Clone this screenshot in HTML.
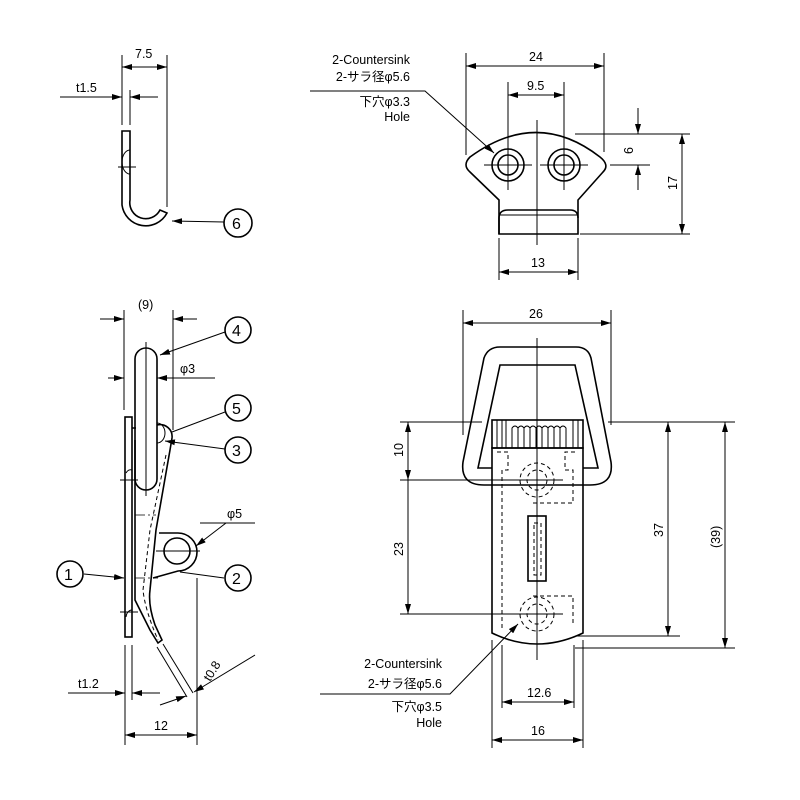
<!DOCTYPE html>
<html><head><meta charset="utf-8"><style>
html,body{margin:0;padding:0;background:#fff}
svg{display:block}
text{font-family:"Liberation Sans","Noto Sans CJK JP",sans-serif;font-size:12.5px;fill:#000}
.l{stroke:#000;stroke-width:1;fill:none}
.t{stroke:#000;stroke-width:1.6;fill:none}
.d{stroke:#000;stroke-width:1;fill:none;stroke-dasharray:4 3}
.c{stroke:#000;stroke-width:0.8;fill:none;stroke-dasharray:10 3 2 3}
.n{font-size:16px}
</style></head><body>
<svg width="800" height="800" viewBox="0 0 800 800" xmlns="http://www.w3.org/2000/svg">
<defs>
<marker id="a" markerWidth="10" markerHeight="6" refX="10" refY="3" orient="auto-start-reverse" markerUnits="userSpaceOnUse"><path d="M0,0 L10,3 L0,6 z" fill="#000"/></marker>
</defs>

<!-- ===== Top-left hook ===== -->
<line class="l" x1="122" y1="55" x2="122" y2="125"/>
<line class="l" x1="167" y1="55" x2="167" y2="207"/>
<line class="l" x1="122" y1="67" x2="167" y2="67" marker-start="url(#a)" marker-end="url(#a)"/>
<text x="135" y="58">7.5</text>
<line class="l" x1="130" y1="90" x2="130" y2="125"/>
<line class="l" x1="60" y1="97" x2="122" y2="97" marker-end="url(#a)"/>
<line class="l" x1="158" y1="97" x2="130" y2="97" marker-end="url(#a)"/>
<text x="76" y="92">t1.5</text>
<path class="t" d="M122,131 L130,131 L130,200 A16,16 0 0 0 160,210 L167,213 A24,24 0 0 1 122,205 Z"/>
<path class="l" d="M130,150 A8,12 0 0 0 130,174"/>
<line class="l" x1="118" y1="167" x2="136" y2="167"/>
<line class="l" x1="224" y1="222" x2="172" y2="221" marker-end="url(#a)"/>
<circle class="t" cx="238" cy="223" r="14"/><text class="n" x="232" y="229">6</text>

<!-- ===== Top-right ===== -->
<line class="l" x1="466" y1="53" x2="466" y2="155"/>
<line class="l" x1="604" y1="53" x2="604" y2="152"/>
<line class="l" x1="466" y1="66" x2="604" y2="66" marker-start="url(#a)" marker-end="url(#a)"/>
<text x="529" y="61">24</text>
<line class="l" x1="508" y1="82" x2="508" y2="190"/>
<line class="l" x1="564" y1="82" x2="564" y2="190"/>
<line class="l" x1="508" y1="95" x2="564" y2="95" marker-start="url(#a)" marker-end="url(#a)"/>
<text x="527" y="90">9.5</text>
<path class="t" d="M499,200 L470,172 Q462,165 470,157 Q537,108 600,157 Q610,165 603,172 L578,200 L578,234 L499,234 Z"/>
<path class="t" d="M499,234 L499,218 Q499,210 508,210 L570,210 Q578,210 578,218"/>
<line class="l" x1="500" y1="215" x2="577" y2="215"/>
<circle class="t" cx="508" cy="165" r="16"/><circle class="t" cx="508" cy="165" r="10"/>
<circle class="t" cx="564" cy="165" r="16"/><circle class="t" cx="564" cy="165" r="10"/>
<line class="l" x1="484" y1="165" x2="532" y2="165"/><line class="l" x1="540" y1="165" x2="588" y2="165"/>
<line class="l" x1="537" y1="120" x2="537" y2="245"/>
<line class="l" x1="575" y1="134" x2="690" y2="134"/>
<line class="l" x1="610" y1="165" x2="650" y2="165"/>
<line class="l" x1="580" y1="234" x2="690" y2="234"/>
<line class="l" x1="638" y1="108" x2="638" y2="134" marker-end="url(#a)"/>
<line class="l" x1="638" y1="190" x2="638" y2="165" marker-end="url(#a)"/>
<line class="l" x1="682" y1="134" x2="682" y2="234" marker-start="url(#a)" marker-end="url(#a)"/>
<text x="0" y="0" transform="translate(633,154) rotate(-90)">6</text>
<text x="0" y="0" transform="translate(677,190) rotate(-90)">17</text>
<line class="l" x1="499" y1="238" x2="499" y2="280"/>
<line class="l" x1="578" y1="238" x2="578" y2="280"/>
<line class="l" x1="499" y1="272" x2="578" y2="272" marker-start="url(#a)" marker-end="url(#a)"/>
<text x="531" y="267">13</text>
<text x="410" y="64" text-anchor="end">2-Countersink</text>
<text x="410" y="81" text-anchor="end">2-サラ径φ5.6</text>
<text x="410" y="106" text-anchor="end">下穴φ3.3</text>
<text x="410" y="121" text-anchor="end">Hole</text>
<polyline class="l" points="310,91 425,91 494,153" marker-end="url(#a)"/>

<!-- ===== Bottom-left side view ===== -->
<line class="l" x1="124" y1="310" x2="124" y2="410"/>
<line class="l" x1="173" y1="310" x2="173" y2="430"/>
<line class="l" x1="100" y1="319" x2="124" y2="319" marker-end="url(#a)"/>
<line class="l" x1="197" y1="319" x2="173" y2="319" marker-end="url(#a)"/>
<text x="138" y="309">(9)</text>
<line class="l" x1="108" y1="378" x2="124" y2="378" marker-end="url(#a)"/>
<line class="l" x1="215" y1="378" x2="157" y2="378" marker-end="url(#a)"/>
<text x="180" y="373">φ3</text>
<rect class="t" x="135" y="348" width="22" height="142" rx="11"/>
<line class="l" x1="146" y1="342" x2="146" y2="496"/>
<rect class="t" x="125" y="417" width="7" height="220"/>
<path class="t" d="M132,428 L136,428 M157,425 A12,12 0 0 1 172,438 L170,450 L156,530 L150,590 Q148,605 155,625 L162,640 L158,643 L150,630 L135,600 L135,440"/>
<path class="d" d="M166,455 L150,530 L143,590 Q145,610 158,640"/>
<path class="l" d="M157,423 A8,10 0 0 1 157,443"/>
<line class="c" x1="135" y1="515" x2="156" y2="515"/>
<line class="c" x1="135" y1="578" x2="158" y2="578"/>
<path class="t" d="M159,533 L178,533 A19,19 0 0 1 178,571 L153,578"/>
<circle class="t" cx="177" cy="551" r="13"/>
<line class="l" x1="156" y1="551" x2="200" y2="551"/>
<path class="l" d="M126,473 A6,8 0 0 1 132,470 M126,617 A6,8 0 0 1 132,610"/>
<line class="l" x1="120" y1="480" x2="138" y2="480"/>
<line class="l" x1="120" y1="612" x2="138" y2="612"/>
<line class="l" x1="200" y1="523" x2="255" y2="523"/>
<line class="l" x1="226" y1="523" x2="196" y2="546" marker-end="url(#a)"/>
<text x="227" y="518">φ5</text>
<line class="l" x1="225" y1="332" x2="160" y2="355" marker-end="url(#a)"/>
<circle class="t" cx="238" cy="330" r="13"/><text class="n" x="232" y="336">4</text>
<line class="l" x1="225" y1="412" x2="172" y2="432"/>
<circle class="t" cx="238" cy="408" r="13"/><text class="n" x="232" y="414">5</text>
<line class="l" x1="225" y1="449" x2="165" y2="441" marker-end="url(#a)"/>
<circle class="t" cx="238" cy="450" r="13"/><text class="n" x="232" y="456">3</text>
<line class="l" x1="84" y1="574" x2="124" y2="578" marker-end="url(#a)"/>
<circle class="t" cx="70" cy="574" r="13"/><text class="n" x="64" y="580">1</text>
<line class="l" x1="224" y1="578" x2="180" y2="572"/>
<circle class="t" cx="238" cy="578" r="13"/><text class="n" x="232" y="584">2</text>
<line class="l" x1="125" y1="645" x2="125" y2="745"/>
<line class="l" x1="132" y1="645" x2="132" y2="700"/>
<line class="l" x1="197" y1="578" x2="197" y2="745"/>
<line class="l" x1="68" y1="693" x2="125" y2="693" marker-end="url(#a)"/>
<line class="l" x1="160" y1="693" x2="132" y2="693" marker-end="url(#a)"/>
<text x="78" y="688">t1.2</text>
<line class="l" x1="125" y1="735" x2="197" y2="735" marker-start="url(#a)" marker-end="url(#a)"/>
<text x="154" y="730">12</text>
<line class="l" x1="157" y1="647" x2="187" y2="697"/>
<line class="l" x1="163" y1="644" x2="193" y2="693"/>
<line class="l" x1="160" y1="705" x2="186" y2="696" marker-end="url(#a)"/>
<line class="l" x1="255" y1="655" x2="194" y2="692" marker-end="url(#a)"/>
<text x="0" y="0" transform="translate(210,682) rotate(-58)">t0.8</text>

<!-- ===== Bottom-right front view ===== -->
<line class="l" x1="463" y1="310" x2="463" y2="435"/>
<line class="l" x1="611" y1="310" x2="611" y2="425"/>
<line class="l" x1="463" y1="323" x2="611" y2="323" marker-start="url(#a)" marker-end="url(#a)"/>
<text x="529" y="318">26</text>
<path class="t" d="M500,347 L576,347 Q588,347 591,358 L611,462 Q614,485 590,485 L484,485 Q460,485 463,462 L484,358 Q488,347 500,347 Z"/>
<polyline class="t" points="492,468 478,468 500,365 575,365 598,468 583,468"/>
<rect class="t" x="492" y="420" width="91" height="28" fill="#fff"/>
<g class="l">
<line x1="497" y1="420" x2="497" y2="448"/><line x1="502" y1="420" x2="502" y2="448"/>
<line x1="506" y1="420" x2="506" y2="448"/><line x1="573" y1="420" x2="573" y2="448"/><line x1="578" y1="420" x2="578" y2="448"/>
</g>
<path class="l" d="M512,448 L512,428 Q515,424 518,428 L518,448 M518,448 L518,428 Q521,424 524,428 L524,448 M524,448 L524,428 Q527,424 530,428 L530,448 M530,448 L530,428 Q533,424 536,428 L536,448 M536,448 L536,428 Q539,424 542,428 L542,448 M542,448 L542,428 Q545,424 548,428 L548,448 M548,448 L548,428 Q551,424 554,428 L554,448 M554,448 L554,428 Q557,424 560,428 L560,448 M560,448 L560,428 Q563,424 566,428 L566,448"/>
<path class="t" d="M492,448 L492,633 Q537,655 583,633 L583,448 Z"/>
<rect class="t" x="528" y="516" width="18" height="65"/>
<rect class="d" x="534" y="523" width="7" height="52"/>
<path class="d" d="M497,452 L508,452 L508,470 L502,470 L502,630 M575,452 L565,452 L565,470 L573,470 L573,503 L533,503 M533,596 L573,596 L573,625"/>
<circle class="d" cx="537" cy="480" r="17"/><circle class="d" cx="537" cy="480" r="10"/>
<circle class="d" cx="537" cy="614" r="17"/><circle class="d" cx="537" cy="614" r="10"/>
<line class="l" x1="537" y1="338" x2="537" y2="660"/>
<line class="l" x1="400" y1="422" x2="482" y2="422"/>
<line class="l" x1="400" y1="480" x2="563" y2="480"/>
<line class="l" x1="400" y1="614" x2="563" y2="614"/>
<line class="l" x1="408" y1="422" x2="408" y2="480" marker-start="url(#a)" marker-end="url(#a)"/>
<line class="l" x1="408" y1="480" x2="408" y2="614" marker-end="url(#a)"/>
<text x="0" y="0" transform="translate(403,457) rotate(-90)">10</text>
<text x="0" y="0" transform="translate(403,556) rotate(-90)">23</text>
<line class="l" x1="608" y1="422" x2="735" y2="422"/>
<line class="l" x1="575" y1="636" x2="680" y2="636"/>
<line class="l" x1="575" y1="648" x2="735" y2="648"/>
<line class="l" x1="668" y1="422" x2="668" y2="636" marker-start="url(#a)" marker-end="url(#a)"/>
<line class="l" x1="725" y1="422" x2="725" y2="648" marker-start="url(#a)" marker-end="url(#a)"/>
<text x="0" y="0" transform="translate(663,537) rotate(-90)">37</text>
<text x="0" y="0" transform="translate(720,548) rotate(-90)">(39)</text>
<line class="l" x1="502" y1="645" x2="502" y2="708"/>
<line class="l" x1="574" y1="645" x2="574" y2="708"/>
<line class="l" x1="492" y1="640" x2="492" y2="748"/>
<line class="l" x1="583" y1="640" x2="583" y2="748"/>
<line class="l" x1="502" y1="702" x2="574" y2="702" marker-start="url(#a)" marker-end="url(#a)"/>
<text x="527" y="697">12.6</text>
<line class="l" x1="492" y1="740" x2="583" y2="740" marker-start="url(#a)" marker-end="url(#a)"/>
<text x="531" y="735">16</text>
<text x="442" y="668" text-anchor="end">2-Countersink</text>
<text x="442" y="688" text-anchor="end">2-サラ径φ5.6</text>
<text x="442" y="711" text-anchor="end">下穴φ3.5</text>
<text x="442" y="727" text-anchor="end">Hole</text>
<polyline class="l" points="320,694 450,694 518,624" marker-end="url(#a)"/>
</svg>
</body></html>
